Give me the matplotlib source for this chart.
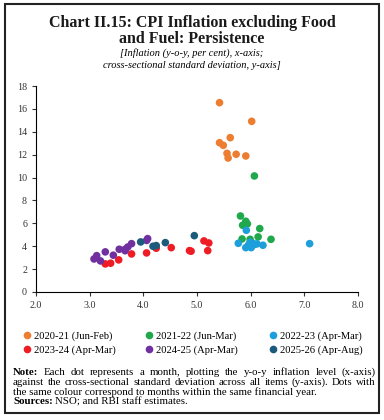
import matplotlib
matplotlib.use("Agg")
import matplotlib.pyplot as plt
from matplotlib.patches import Rectangle
from matplotlib.lines import Line2D

plt.rcParams['font.family'] = ['Liberation Serif', 'DejaVu Serif']

# data: (inflation x, std dev y)
fy2021_x = [5.42, 6.02, 5.42, 5.49, 5.62, 5.56, 5.58, 5.73, 5.91]
fy2021_y = [16.55, 14.92, 13.05, 12.82, 13.49, 12.12, 11.71, 12.04, 11.89]

fy2122_x = [6.07, 5.81, 5.91, 5.85, 5.94, 6.17, 5.84, 5.99, 6.14, 6.38]
fy2122_y = [10.14, 6.64, 6.18, 5.83, 5.95, 5.54, 4.63, 4.60, 4.81, 4.60]

fy2223_x = [5.92, 5.77, 5.91, 6.01, 5.99, 6.04, 6.12, 6.23, 7.10, 5.96, 6.07, 6.02]
fy2223_y = [5.39, 4.25, 3.87, 3.87, 4.34, 4.25, 4.20, 4.08, 4.22, 4.10, 4.15, 4.00]

fy2324_x = [4.89, 4.86, 5.13, 5.22, 5.20, 3.29, 3.39, 3.54, 3.78, 4.06, 4.24, 4.52]
fy2324_y = [3.56, 3.61, 4.46, 4.28, 3.61, 2.45, 2.51, 2.80, 3.32, 3.41, 3.82, 3.87]

fy2425_x = [3.08, 3.13, 3.20, 3.29, 3.44, 3.55, 3.66, 3.71, 3.78, 4.08, 4.06, 3.66]
fy2425_y = [2.88, 3.17, 2.71, 3.50, 3.21, 3.73, 3.73, 3.93, 4.22, 4.66, 4.50, 3.60]

fy2526_x = [3.95, 4.18, 4.24, 4.41, 4.95]
fy2526_y = [4.37, 3.99, 4.05, 4.31, 4.92]

labels = ['2020-21 (Jun-Feb)', '2021-22 (Jun-Mar)', '2022-23 (Apr-Mar)',
          '2023-24 (Apr-Mar)', '2024-25 (Apr-Mar)', '2025-26 (Apr-Aug)']
colors = ['#ED7D31', '#20A84C', '#1C9FDB', '#EE1C25', '#7030A0', '#1D5B7C']
xs = [fy2021_x, fy2122_x, fy2223_x, fy2324_x, fy2425_x, fy2526_x]
ys = [fy2021_y, fy2122_y, fy2223_y, fy2324_y, fy2425_y, fy2526_y]

fig = plt.figure(figsize=(3.84, 4.20), dpi=100)
ax = fig.add_axes([0.094, 0.305, 0.838, 0.49])

for x, y, c, lab in zip(xs, ys, colors, labels):
    ax.scatter(x, y, s=30, color=c, edgecolors='none', label=lab, zorder=3)

ax.set_xlim(2, 8)
ax.set_ylim(0, 18)
ax.set_xticks([2, 3, 4, 5, 6, 7, 8])
ax.set_xticklabels(['2.0', '3.0', '4.0', '5.0', '6.0', '7.0', '8.0'])
ax.set_yticks(range(0, 19, 2))
ax.tick_params(labelsize=7.2, colors='#333333', length=3, width=0.8)
for s in ['top', 'right']:
    ax.spines[s].set_visible(False)
for s in ['left', 'bottom']:
    ax.spines[s].set_linewidth(0.8)

# legend: three columns, two rows (row-wise order as in the source)
col_x = [0.035, 0.353, 0.675]
for j in range(3):
    idx = [j, j + 3]
    hs = [Line2D([], [], marker='o', ls='none', color=colors[i], markersize=5.5,
                 markeredgewidth=0) for i in idx]
    fig.legend(hs, [labels[i] for i in idx], loc='upper left',
               bbox_to_anchor=(col_x[j], 0.229), frameon=False, fontsize=7.6,
               handletextpad=0.05, labelspacing=0.45, borderpad=0.2,
               handlelength=1.2)

# title
fig.text(0.5, 0.945, 'Chart II.15: CPI Inflation excluding Food', ha='center', va='center',
         fontsize=11.5, fontweight='bold', color='#1a1a1a')
fig.text(0.5, 0.906, 'and Fuel: Persistence', ha='center', va='center',
         fontsize=11.5, fontweight='bold', color='#1a1a1a')
fig.text(0.5, 0.873, '[Inflation (y-o-y, per cent), x-axis;', ha='center', va='center',
         fontsize=7.5, style='italic')
fig.text(0.5, 0.843, 'cross-sectional standard deviation, y-axis]', ha='center', va='center',
         fontsize=7.5, style='italic')

# note, justified like the source
r = fig.canvas.get_renderer()
FS = 7.8
x0, x1 = 13 / 384, 376 / 384


def width(s, bold=False):
    t = fig.text(0, 0, s, fontsize=FS, fontweight='bold' if bold else 'normal')
    w = t.get_window_extent(r).width / fig.bbox.width
    t.remove()
    return w


def justified(words, y):
    # words: list of (text, bold)
    ws = [width(w, b) for w, b in words]
    gap = (x1 - x0 - sum(ws)) / (len(words) - 1)
    x = x0
    for (w, b), wd in zip(words, ws):
        fig.text(x, y, w, fontsize=FS, fontweight='bold' if b else 'normal', va='center')
        x += wd + gap


line1 = [('Note:', True)] + [(w, False) for w in
         'Each dot represents a month, plotting the y-o-y inflation level (x-axis)'.split()]
line2 = [(w, False) for w in
         'against the cross-sectional standard deviation across all items (y-axis). Dots with'.split()]
justified(line1, 0.114)
justified(line2, 0.090)
fig.text(x0, 0.067, 'the same colour correspond to months within the same financial year.',
         fontsize=FS, va='center')
t = fig.text(x0, 0.043, 'Sources:', fontsize=FS, fontweight='bold', va='center')
fig.text(x0 + width('Sources:', True) + 0.006, 0.043, 'NSO; and RBI staff estimates.',
         fontsize=FS, va='center')

# frame around the panel
fig.patches.append(Rectangle((0.012, 0.017), 0.976, 0.973, transform=fig.transFigure,
                             fill=False, edgecolor='#222222', linewidth=1.5))

fig.savefig('out.png', dpi=100)
